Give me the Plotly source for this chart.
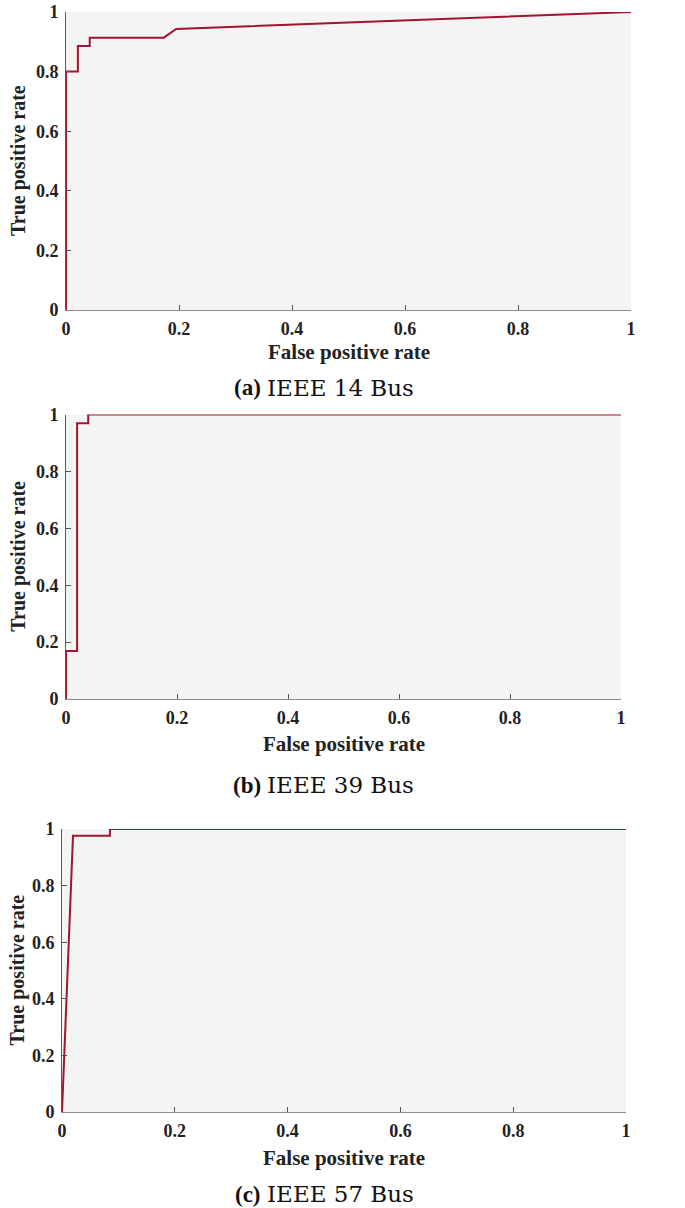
import plotly.graph_objects as go

# ---- data ----
fpr_14 = [0, 0, 0.021, 0.021, 0.042, 0.042, 0.173, 0.195, 1.0]
tpr_14 = [0, 0.800, 0.800, 0.886, 0.886, 0.914, 0.914, 0.943, 1.0]

fpr_39 = [0, 0, 0.020, 0.020, 0.040, 0.040, 1.0]
tpr_39 = [0, 0.169, 0.169, 0.969, 0.969, 1.0, 1.0]

fpr_57 = [0, 0.0195, 0.085, 0.085, 1.0]
tpr_57 = [0, 0.976, 0.976, 1.0, 1.0]

caption_tags = ["(a)", "(b)", "(c)"]
caption_names = ["IEEE 14 Bus", "IEEE 39 Bus", "IEEE 57 Bus"]
tick_vals = [0, 0.2, 0.4, 0.6, 0.8, 1]
tick_text = ["0", "0.2", "0.4", "0.6", "0.8", "1"]
x_title = "False positive rate"
y_title = "True positive rate"

W, H = 685, 1208
LINE = "#A2142F"
FONT = "Liberation Serif"
CAPFONT = "DejaVu Serif"


def px(v):
    return v / W


def py(v):
    return 1 - v / H


# plot boxes in screen pixels: (left, right, top, bottom)
boxes = [(66, 631, 12, 310), (66, 621, 414.5, 699), (62, 626, 829, 1112)]
series = [(fpr_14, tpr_14), (fpr_39, tpr_39), (fpr_57, tpr_57)]
ytitle_x = [19, 19, 17]
xtitle_dy = [42, 45, 46]
caption_y = [388, 785, 1194]

fig = go.Figure()
layout = {}
annotations = []
for i, ((l, r, t, b), (xs, ys)) in enumerate(zip(boxes, series)):
    n = i + 1
    xa = "x" if n == 1 else f"x{n}"
    ya = "y" if n == 1 else f"y{n}"
    fig.add_trace(go.Scatter(x=xs, y=ys, mode="lines", xaxis=xa, yaxis=ya,
                             line=dict(color=LINE, width=2), cliponaxis=False,
                             showlegend=False, hoverinfo="skip"))
    dx = [px(l), px(r)]
    dy = [py(b), py(t)]
    common = dict(range=[0, 1], tickvals=tick_vals, ticktext=tick_text,
                  ticks="inside", ticklen=5, tickwidth=1, showgrid=False,
                  zeroline=False, showline=True, linewidth=1, automargin=False,
                  tickfont=dict(family=FONT, size=18, color="#222", weight="bold"))
    layout[f"xaxis{'' if n == 1 else n}"] = dict(domain=dx, anchor=ya, linecolor="#8c8c8c",
                                                 tickcolor="#555", ticklabelstandoff=2, **common)
    layout[f"yaxis{'' if n == 1 else n}"] = dict(domain=dy, anchor=xa, linecolor="#5a5a5a",
                                                 tickcolor="#555", ticklabelstandoff=3, **common)
    # overlay axes for the top and right box edges
    m = n + 3
    layout[f"xaxis{m}"] = dict(domain=dx, anchor=ya, overlaying=xa, side="top",
                               range=[0, 1], tickvals=tick_vals, ticks="inside", ticklen=5,
                               tickcolor="#555", showticklabels=False, showgrid=False,
                               zeroline=False, showline=True, linecolor="#5a5a5a",
                               linewidth=1, automargin=False)
    layout[f"yaxis{m}"] = dict(domain=dy, anchor=xa, overlaying=ya, side="right",
                               range=[0, 1], tickvals=tick_vals, ticks="inside", ticklen=5,
                               tickcolor="#555", showticklabels=False, showgrid=False,
                               zeroline=False, showline=True, linecolor="#c8c8c8",
                               linewidth=1, automargin=False)
    # background box
    fig.add_shape(type="rect", xref=f"{xa} domain", yref=f"{ya} domain",
                  x0=0, x1=1, y0=0, y1=1, fillcolor="#f4f4f4", line_width=0, layer="below")
    cx = px((l + r) / 2)
    annotations.append(dict(text=f"<b>{x_title}</b>", x=cx, y=py(b + xtitle_dy[i]),
                            xref="paper", yref="paper", showarrow=False,
                            xanchor="center", yanchor="middle",
                            font=dict(family=FONT, size=21, color="#222")))
    annotations.append(dict(text=f"<b>{y_title}</b>", x=px(ytitle_x[i]),
                            y=py((t + b) / 2), textangle=-90,
                            xref="paper", yref="paper", showarrow=False,
                            xanchor="center", yanchor="middle",
                            font=dict(family=FONT, size=20, color="#222")))
    annotations.append(dict(text=f"<b>{caption_tags[i]}</b>", x=px(263), y=py(caption_y[i]),
                            xref="paper", yref="paper", showarrow=False,
                            xanchor="right", yanchor="middle",
                            font=dict(family=FONT, size=23, color="#111")))
    annotations.append(dict(text=caption_names[i], x=px(265), y=py(caption_y[i]),
                            xref="paper", yref="paper", showarrow=False,
                            xanchor="left", yanchor="middle",
                            font=dict(family=CAPFONT, size=23, color="#111")))

fig.update_layout(template="none", width=W, height=H,
                  margin=dict(l=0, r=0, t=0, b=0, autoexpand=False),
                  paper_bgcolor="white", plot_bgcolor="rgba(0,0,0,0)",
                  annotations=annotations, **layout)
fig.write_html("out.html", config={"displayModeBar": False},
               post_script="document.body.style.margin='0px';")
